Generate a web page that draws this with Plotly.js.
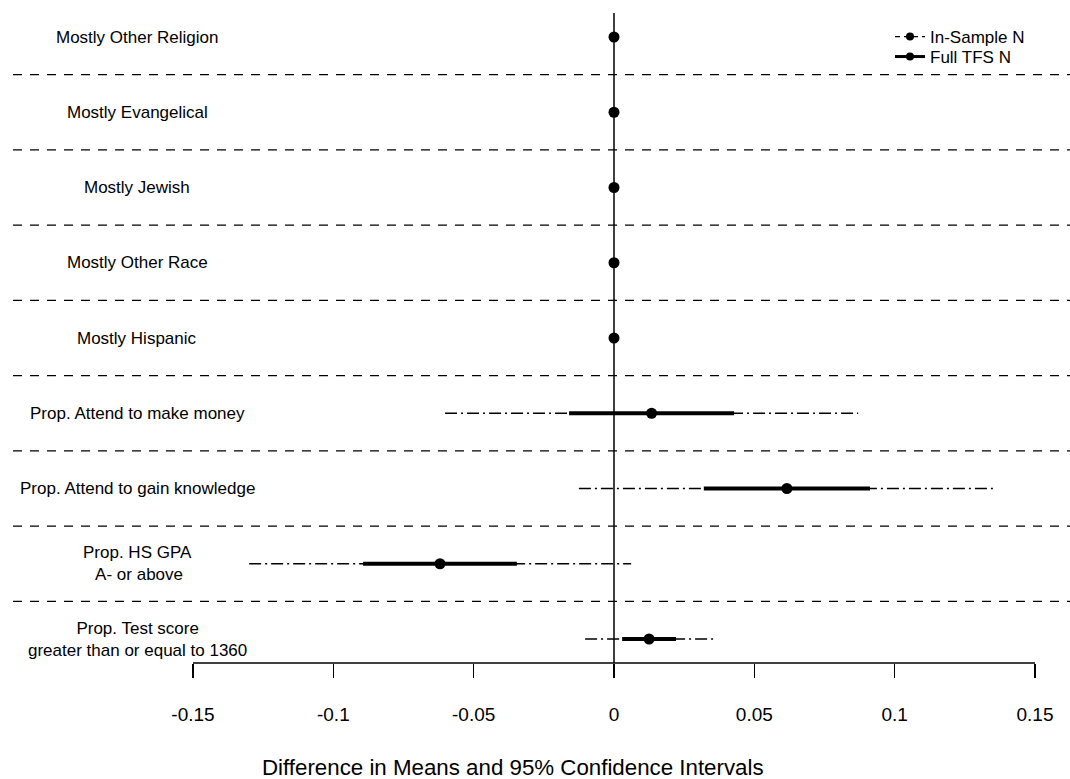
<!DOCTYPE html>
<html>
<head>
<meta charset="utf-8">
<script src="https://cdn.plot.ly/plotly-3.0.1.min.js"></script>
<style>html,body{margin:0;padding:0;background:#fff;}#chart{width:1070px;height:779px;}</style>
</head>
<body>
<div id="chart"></div>
<script>
// ---- data (top row first) ----
var categories = [
  "Mostly Other Religion",
  "Mostly Evangelical",
  "Mostly Jewish",
  "Mostly Other Race",
  "Mostly Hispanic",
  "Prop. Attend to make money",
  "Prop. Attend to gain knowledge",
  "Prop. HS GPA<br> A- or above",
  "Prop. Test score<br>greater than or equal to 1360"
];
var meanDiff = [0, 0, 0, 0, 0, 0.0134, 0.0616, -0.0620, 0.0125];
var fullLo   = [0, 0, 0, 0, 0, -0.0160, 0.0320, -0.0894, 0.0029];
var fullHi   = [0, 0, 0, 0, 0, 0.0428, 0.0912, -0.0346, 0.0221];
var sampLo   = [0, 0, 0, 0, 0, -0.0602, -0.0125, -0.1300, -0.0103];
var sampHi   = [0, 0, 0, 0, 0, 0.0870, 0.1360, 0.0061, 0.0353];
var tickVals = [-0.15, -0.1, -0.05, 0, 0.05, 0.1, 0.15];
var tickText = ["-0.15", "-0.1", "-0.05", "0", "0.05", "0.1", "0.15"];
var xTitle = "Difference in Means and 95% Confidence Intervals";
var legendNames = ["In-Sample N", "Full TFS N"];

var FONT = "Liberation Sans, Arial, Helvetica, sans-serif";
var rows = categories.map(function(c, i){ return i; });

function segs(lo, hi){
  var xs = [], ys = [];
  for (var i = 0; i < lo.length; i++){
    xs.push(lo[i], hi[i], null);
    ys.push(rows[i], rows[i], null);
  }
  return {x: xs, y: ys};
}
var s1 = segs(sampLo, sampHi);
var s2 = segs(fullLo, fullHi);
var thinDash = "12px,4px,2px,4px";

var traces = [
  {x: s1.x, y: s1.y, mode: "lines", line: {color: "#000", width: 1.3, dash: thinDash},
   showlegend: false, hoverinfo: "skip"},
  {x: s2.x, y: s2.y, mode: "lines", line: {color: "#000", width: 4},
   showlegend: false, hoverinfo: "skip"},
  {x: meanDiff, y: rows, mode: "markers", marker: {color: "#000", size: 11},
   showlegend: false},
  // legend entries
  {x: [null], y: [null], mode: "lines+markers", name: legendNames[0], legend: "legend",
   line: {color: "#000", width: 1.3, dash: "5px,4px"}, marker: {color: "#000", size: 8}},
  {x: [null], y: [null], mode: "lines+markers", name: legendNames[1], legend: "legend2",
   line: {color: "#000", width: 3}, marker: {color: "#000", size: 8}}
];

var shapes = [];
for (var i = 0; i < rows.length - 1; i++){
  shapes.push({type: "line", xref: "paper", yref: "y", x0: 13/1070, x1: 1,
    y0: rows[i] + 0.5, y1: rows[i] + 0.5, line: {color: "#000", width: 1.3, dash: "9px,8px"}});
}
// vertical reference at zero
shapes.push({type: "line", xref: "x", yref: "y", x0: 0, x1: 0, y0: -0.32, y1: 8.32,
  line: {color: "#000", width: 1.5}});
// bottom axis line spanning the tick range
shapes.push({type: "line", xref: "x", yref: "paper", x0: tickVals[0], x1: tickVals[tickVals.length-1],
  y0: 0, y1: 0, line: {color: "#000", width: 1.3}});

var annotations = categories.map(function(c, i){
  return {xref: "paper", yref: "y", x: 137/1070, y: rows[i], text: c, showarrow: false,
    xanchor: "center", yanchor: "middle", align: "center",
    font: {family: FONT, size: 17, color: "#000"}};
});
annotations.push({xref: "paper", yref: "paper", x: 513/1070, y: -(768-663)/663, text: xTitle,
  showarrow: false, xanchor: "center", yanchor: "middle",
  font: {family: FONT, size: 22.3, color: "#000"}});

var legBase = {xanchor: "left", yanchor: "top", bgcolor: "rgba(0,0,0,0)", borderwidth: 0,
  font: {family: FONT, size: 17, color: "#000"}, itemwidth: 30};
var legend1 = Object.assign({}, legBase, {x: 890/1070, y: 1 - 19/663});
var legend2 = Object.assign({}, legBase, {x: 890/1070, y: 1 - 39/663});

var layout = {
  width: 1070, height: 779,
  margin: {l: 0, r: 0, t: 0, b: 116, pad: 0},
  paper_bgcolor: "#fff", plot_bgcolor: "#fff",
  font: {family: FONT, color: "#000"},
  xaxis: {
    range: [-0.15 - 193/2806.7, 0.15 + 35/2806.7],
    showgrid: false, zeroline: false, showline: false,
    tickmode: "array", tickvals: tickVals, ticktext: tickText,
    ticks: "outside", ticklen: 14, tickwidth: 1.3, tickcolor: "#000",
    ticklabelstandoff: 20,
    tickfont: {family: FONT, size: 19, color: "#000"},
    fixedrange: true
  },
  yaxis: {
    range: [8 + 24/75.25, -37/75.25],
    showgrid: false, zeroline: false, showline: false, showticklabels: false, ticks: "",
    fixedrange: true
  },
  showlegend: true,
  legend: legend1,
  legend2: legend2,
  shapes: shapes,
  annotations: annotations
};

Plotly.newPlot("chart", traces, layout, {displayModeBar: false, staticPlot: true});
</script>
</body>
</html>
